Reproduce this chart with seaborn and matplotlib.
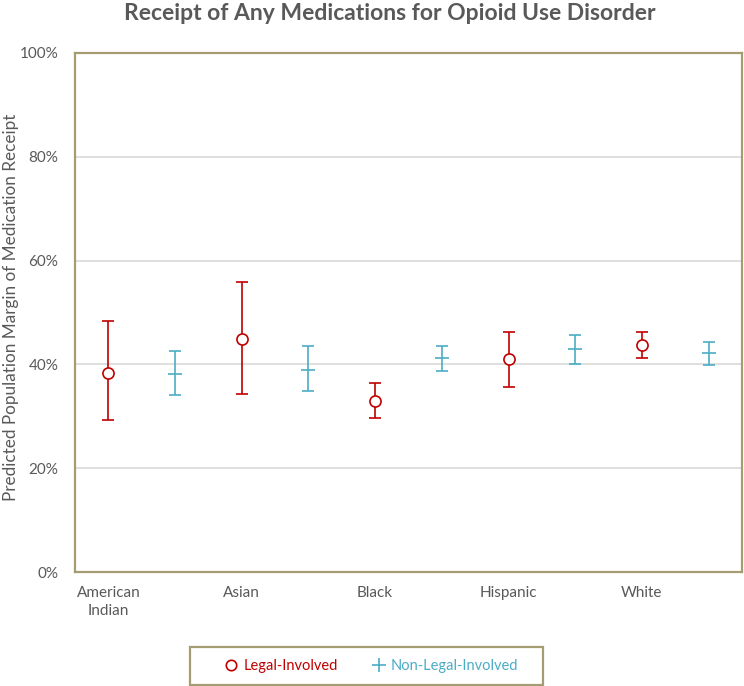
import numpy as np
import pandas as pd
import matplotlib
matplotlib.use("Agg")
import matplotlib.pyplot as plt
from matplotlib.patches import Rectangle
from matplotlib.ticker import PercentFormatter
import seaborn as sns

groups = ["American\nIndian", "Asian", "Black", "Hispanic", "White"]

# predicted margins (%) with 95% CI bounds
legal_mean = [38.4, 44.8, 32.9, 41.0, 43.8]
legal_low = [29.3, 34.3, 29.6, 35.7, 41.3]
legal_high = [48.3, 55.8, 36.4, 46.3, 46.3]

nonlegal_mean = [38.2, 39.0, 41.2, 42.9, 42.2]
nonlegal_low = [34.1, 34.8, 38.8, 40.0, 39.9]
nonlegal_high = [42.6, 43.5, 43.6, 45.6, 44.4]

RED = "#C00000"
CYAN = "#4BACC6"
TAN = "#A69C72"
GREY = "#595959"

sns.set_theme(style="white")
plt.rcParams["font.family"] = ["Lato", "DejaVu Sans"]

rows = []
for i, g in enumerate(groups):
    rows.append({"group": g, "status": "Legal-Involved", "pos": 2 * i,
                 "mean": legal_mean[i], "low": legal_low[i], "high": legal_high[i]})
    rows.append({"group": g, "status": "Non-Legal-Involved", "pos": 2 * i + 1,
                 "mean": nonlegal_mean[i], "low": nonlegal_low[i], "high": nonlegal_high[i]})
df = pd.DataFrame(rows)
legal = df[df["status"] == "Legal-Involved"]
nonl = df[df["status"] == "Non-Legal-Involved"]

fig = plt.figure(figsize=(7.44, 6.86), dpi=100)
ax = fig.add_axes([75 / 744, 1 - 572 / 686, 667 / 744, 519 / 686])

for sub, color in [(legal, RED), (nonl, CYAN)]:
    ax.errorbar(sub["pos"], sub["mean"],
                yerr=[sub["mean"] - sub["low"], sub["high"] - sub["mean"]],
                fmt="none", ecolor=color, elinewidth=1.2, capsize=4, capthick=1.2,
                zorder=3)

# hollow circles for legal-involved
sns.scatterplot(data=legal, x="pos", y="mean", marker="o", s=64,
                facecolors="white", edgecolor=RED, linewidth=1.2,
                ax=ax, zorder=5, legend=False)
# dash markers for non-legal-involved (the bar itself makes the "+")
sns.scatterplot(data=nonl, x="pos", y="mean", marker="_", s=100,
                color=CYAN, linewidth=1.2, ax=ax, zorder=5, legend=False)

ax.set_xlim(-0.5, 9.5)
ax.set_ylim(0, 100)
ax.set_yticks(np.arange(0, 101, 20))
ax.yaxis.set_major_formatter(PercentFormatter(decimals=0))
ax.set_xticks([2 * i for i in range(len(groups))])
ax.set_xticklabels(groups, linespacing=1.35)
ax.yaxis.grid(True, color="#D9D9D9", linewidth=1.2)
ax.set_axisbelow(True)
ax.tick_params(axis="both", length=0, labelsize=11, colors=GREY, pad=12)
ax.tick_params(axis="x", pad=10)
for sp in ax.spines.values():
    sp.set_color(TAN)
    sp.set_linewidth(1.6)
ax.set_xlabel("")
ax.set_ylabel("Predicted Population Margin of Medication Receipt",
              fontsize=12.3, color=GREY, va="center")
ax.yaxis.set_label_coords((11 - 75) / 667, 0.51)

fig.text(390 / 744, 1 - 14 / 686, "Receipt of Any Medications for Opioid Use Disorder",
         ha="center", va="center", fontsize=16.5, fontweight="bold", color=GREY)

# legend box
fig.patches.append(Rectangle((190 / 744, 1 - 685 / 686), 353 / 744, 38 / 686,
                             transform=fig.transFigure, fill=False,
                             edgecolor=TAN, linewidth=1.6))
handles = [
    plt.Line2D([], [], marker="o", linestyle="none", markerfacecolor="white",
               markeredgecolor=RED, markeredgewidth=1.2, markersize=7.5),
    plt.Line2D([], [], marker="+", linestyle="none", color=CYAN,
               markeredgewidth=1.2, markersize=10),
]
leg = fig.legend(handles, ["Legal-Involved", "Non-Legal-Involved"],
                 loc="center", bbox_to_anchor=(371 / 744, 1 - 666 / 686),
                 ncol=2, frameon=False, fontsize=10.5, handlelength=1.0,
                 handletextpad=0.35, columnspacing=2.3)
for t, c in zip(leg.get_texts(), [RED, CYAN]):
    t.set_color(c)

fig.savefig("out.png", dpi=100)
